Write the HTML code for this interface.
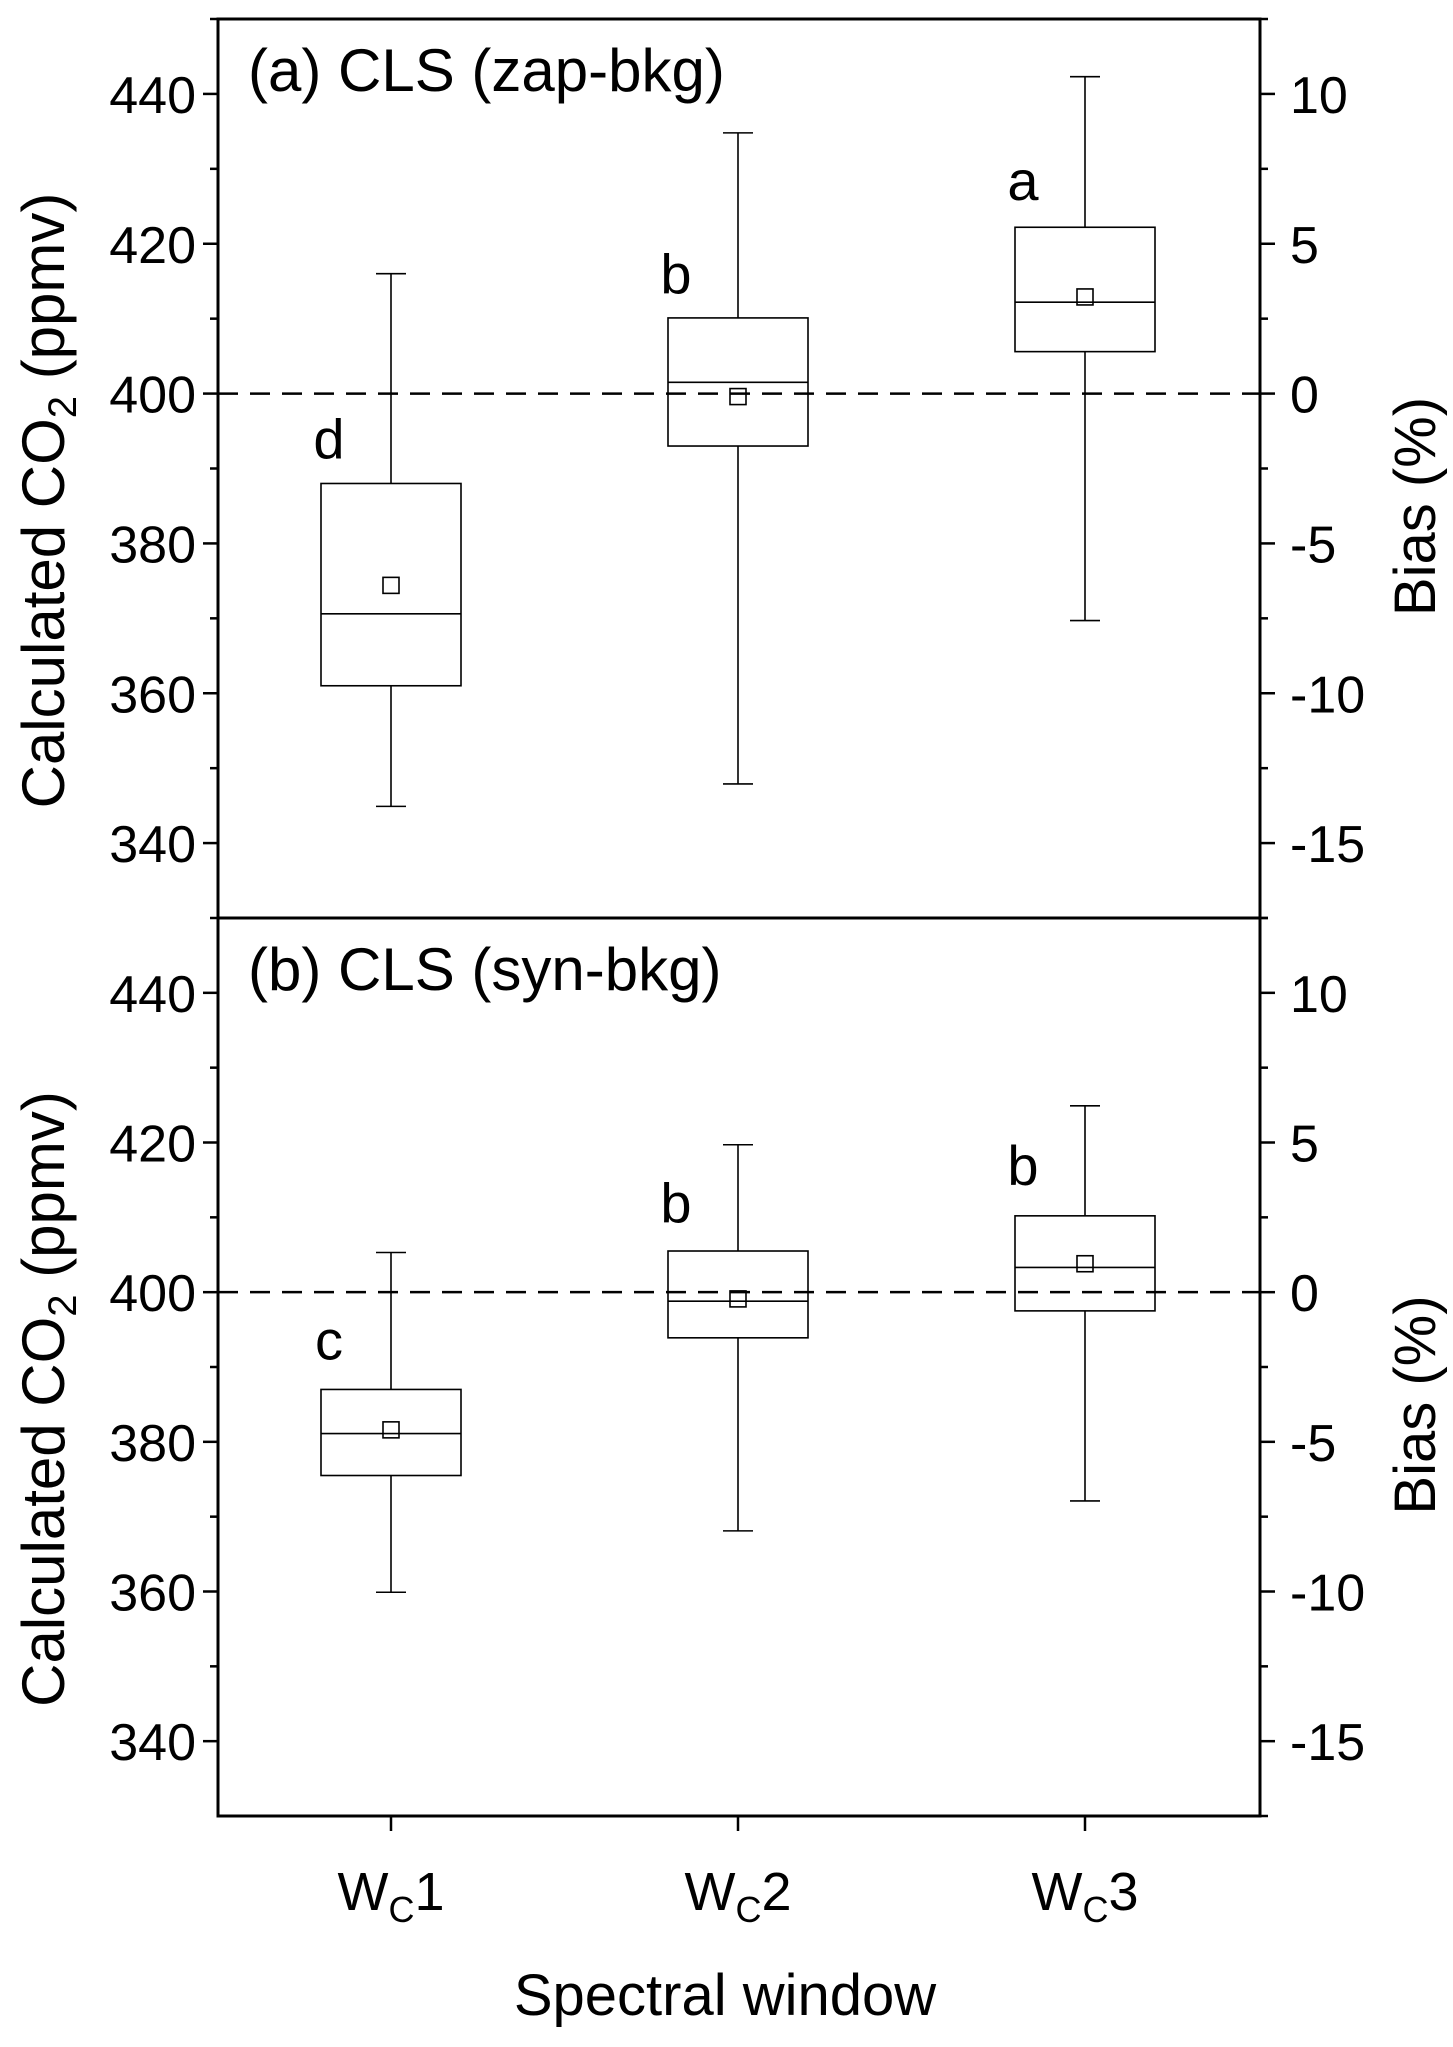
<!DOCTYPE html>
<html><head><meta charset="utf-8"><style>
html,body{margin:0;padding:0;background:#fff;}
svg{display:block;font-family:"Liberation Sans",Arial,sans-serif;}
</style></head><body>
<svg id="chart" width="1453" height="2047" viewBox="0 0 1453 2047" xmlns="http://www.w3.org/2000/svg"></svg>
<script>
const categories = ["1","2","3"];
const panelTitles = ["(a) CLS (zap-bkg)","(b) CLS (syn-bkg)"];
const whiskerHigh = [[416.0,434.8,442.3],[405.3,419.7,424.9]];
const q3 = [[388.0,410.1,422.2],[387.0,405.5,410.2]];
const median = [[370.6,401.5,412.2],[381.1,398.8,403.3]];
const q1 = [[361.0,393.0,405.6],[375.5,393.9,397.5]];
const whiskerLow = [[344.9,347.9,369.7],[359.9,368.1,372.1]];
const means = [[374.4,399.6,412.9],[381.6,399.1,403.8]];
const letters = [["d","b","a"],["c","b","b"]];
const letterY = [[394,416,428.5],[393.7,412,417]];
const leftTicks = [340,360,380,400,420,440];
const rightTicks = [-15,-10,-5,0,5,10];

const svg = document.getElementById('chart');
const NS = 'http://www.w3.org/2000/svg';
function mk(tag, attrs, parent){const e=document.createElementNS(NS,tag);for(const k in attrs)e.setAttribute(k,attrs[k]);(parent||svg).appendChild(e);return e;}
function txt(parent,x,y,size,anchor,html,rot){
  const tr = rot ? `translate(${x},${y}) rotate(-90)` : `translate(${x},${y})`;
  const t=mk('text',{transform:tr,'font-size':size,'text-anchor':anchor},parent);
  t.innerHTML=html;return t;
}
const L=218, R=1260;
const panels=[{top:19,bot:918},{top:918,bot:1816}];
const yMin=330,yMax=450;
const catX = i => 391 + i*347;
const halfBox=70, cap=15, ms=8;

panels.forEach((p,pi)=>{
  const g=mk('g',{});
  
  
  const y = v => p.bot - (v-yMin)/(yMax-yMin)*(p.bot-p.top);
  const by = b => y(400*(1+b/100));
  const fr=mk('rect',{x:L,y:p.top,width:R-L,height:p.bot-p.top,fill:'none',stroke:'#000','stroke-width':3},g);
  
  for(let v=340; v<=450; v+=10){
    const major = leftTicks.includes(v);
    mk('line',{x1:L-(major?15:8),x2:L,y1:y(v),y2:y(v),stroke:'#000','stroke-width':2.5},g);
  }
  leftTicks.forEach(v=>{
    const t=txt(g,L-22,y(v)+19,52,'end',String(v));
    
  });
  for(let b=-17.5; b<=12.5; b+=2.5){
    const major = rightTicks.includes(b);
    if(by(b)<p.top-1||by(b)>p.bot+1)continue;
    mk('line',{x1:R,x2:R+(major?15:8),y1:by(b),y2:by(b),stroke:'#000','stroke-width':2.5},g);
  }
  rightTicks.forEach(b=>{
    const t=txt(g,R+30,by(b)+19,52,'start',String(b));
    
  });
  const yl=txt(g,64,(p.top+p.bot)/2+32,60,'middle','Calculated CO<tspan font-size="40" dy="12">2</tspan><tspan dy="-12"> (ppmv)</tspan>',true);
  
  const rl=txt(g,1435,(p.top+p.bot)/2+38,58,'middle','Bias (%)',true);
  
  const tt=txt(g,248,p.top+72,60,'start',panelTitles[pi]);
  
  const dl=mk('line',{x1:L,x2:R,y1:y(400),y2:y(400),stroke:'#000','stroke-width':2.5,'stroke-dasharray':'20 12'},g);
  
  categories.forEach((c,i)=>{
    const x=catX(i);
    const bg=mk('g',{},g);
    
    
    mk('line',{x1:x,x2:x,y1:y(whiskerHigh[pi][i]),y2:y(q3[pi][i]),stroke:'#000','stroke-width':1.6},bg);
    mk('line',{x1:x,x2:x,y1:y(q1[pi][i]),y2:y(whiskerLow[pi][i]),stroke:'#000','stroke-width':1.6},bg);
    mk('line',{x1:x-cap,x2:x+cap,y1:y(whiskerHigh[pi][i]),y2:y(whiskerHigh[pi][i]),stroke:'#000','stroke-width':1.6},bg);
    mk('line',{x1:x-cap,x2:x+cap,y1:y(whiskerLow[pi][i]),y2:y(whiskerLow[pi][i]),stroke:'#000','stroke-width':1.6},bg);
    mk('rect',{x:x-halfBox,y:y(q3[pi][i]),width:2*halfBox,height:y(q1[pi][i])-y(q3[pi][i]),fill:'none',stroke:'#000','stroke-width':1.6},bg);
    mk('line',{x1:x-halfBox,x2:x+halfBox,y1:y(median[pi][i]),y2:y(median[pi][i]),stroke:'#000','stroke-width':1.6},bg);
    mk('rect',{x:x-ms,y:y(means[pi][i])-ms,width:2*ms,height:2*ms,fill:'none',stroke:'#000','stroke-width':1.6},bg);
    const lt=txt(g,x-62,y(letterY[pi][i])+20,56,'middle',letters[pi][i]);
    
  });
});
const xb=panels[1].bot;
categories.forEach((c,i)=>{
  const x=catX(i);
  mk('line',{x1:x,x2:x,y1:xb,y2:xb+15,stroke:'#000','stroke-width':2.5});
  const t=txt(svg,x,1910,54,'middle','W<tspan font-size="36" dy="12">C</tspan><tspan dy="-12">'+c+'</tspan>');
  
});
const xt=txt(svg,725,2015,58,'middle','Spectral window');

</script>
</body></html>
